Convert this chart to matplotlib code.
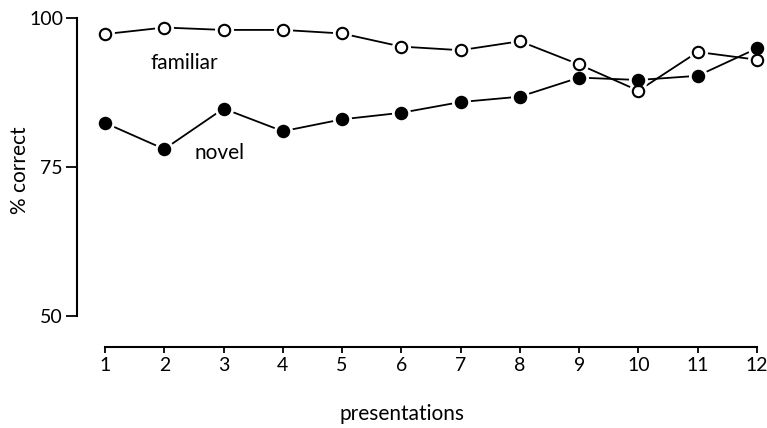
import matplotlib
matplotlib.use("Agg")
import matplotlib.pyplot as plt

presentations = list(range(1, 13))
familiar = [97.3, 98.4, 98.0, 98.0, 97.4, 95.2, 94.6, 96.1, 92.2, 87.8, 94.3, 93.0]
novel = [82.4, 78.0, 84.8, 81.0, 83.0, 84.1, 85.9, 86.8, 90.0, 89.6, 90.3, 94.9]
y_ticks = [50, 75, 100]

plt.rcParams["font.family"] = ["Lato", "DejaVu Sans"]

fig = plt.figure(figsize=(7.67, 4.28), dpi=100)
W, H = 767, 428
ax = fig.add_axes([77 / W, (H - 347) / H, (765 - 77) / W, (347 - 8) / H])

px_per_x = 59.27
ax.set_xlim(1 - 28 / px_per_x, 1 + (765 - 105) / px_per_x)
px_per_y = 5.96
ax.set_ylim(100 - (347 - 18) / px_per_y, 100 + (18 - 8) / px_per_y)

lw = 1.3
ms = 8.2
# connecting lines
ax.plot(presentations, familiar, color="black", lw=lw, zorder=2, clip_on=False)
ax.plot(presentations, novel, color="black", lw=lw, zorder=2, clip_on=False)
# white halos leave a small gap between lines and markers
for ys in (familiar, novel):
    ax.plot(presentations, ys, ls="none", marker="o", ms=ms + 4.5,
            mfc="white", mec="white", zorder=3, clip_on=False)
ax.plot(presentations, familiar, ls="none", marker="o", ms=ms, mfc="white",
        mec="black", mew=1.5, zorder=4, clip_on=False)
ax.plot(presentations, novel, ls="none", marker="o", ms=ms, mfc="black",
        mec="black", mew=1.5, zorder=5, clip_on=False)

for s in ("top", "right"):
    ax.spines[s].set_visible(False)
ax.spines["left"].set_bounds(50, 100)
ax.spines["bottom"].set_bounds(1, 12)
ax.spines["left"].set_linewidth(1.5)
ax.spines["bottom"].set_linewidth(1.5)

ax.set_xticks(presentations)
ax.set_xticklabels([str(p) for p in presentations])
ax.set_yticks(y_ticks)
ax.set_yticklabels([str(v) for v in y_ticks])
ax.tick_params(axis="both", direction="out", width=1.3, labelsize=14,
               colors="black")
ax.tick_params(axis="x", length=4, pad=3)
ax.tick_params(axis="y", length=8, pad=2)

ax.text(2.34, 92.45, "familiar", fontsize=15, ha="center", va="center")
ax.text(2.94, 77.35, "novel", fontsize=15, ha="center", va="center")

fig.text(20 / W, 1 - 170 / H, "% correct", rotation=90, fontsize=15,
         ha="center", va="center")
fig.text(402 / W, 1 - 414 / H, "presentations", fontsize=15,
         ha="center", va="center")

fig.savefig("out.png", dpi=100)
